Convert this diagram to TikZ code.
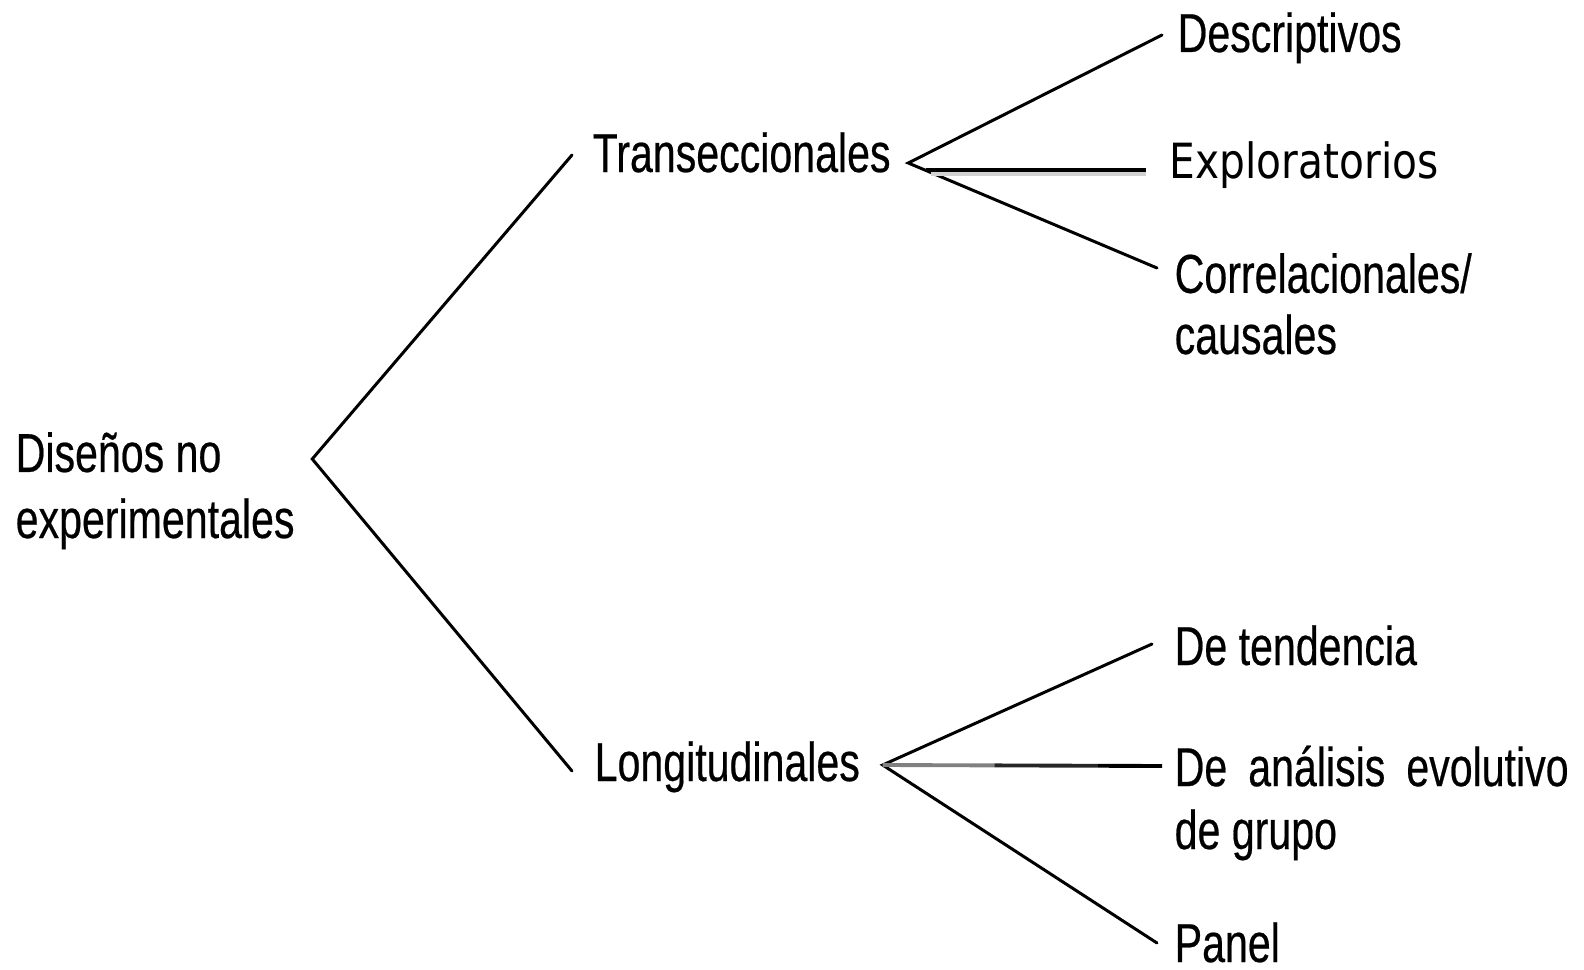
\documentclass[tikz,border=0pt]{standalone}
\usepackage{fontspec}
\setmainfont{Liberation Sans}[FakeStretch=0.75,FakeBold=0.4]
\newfontfamily\explfont{DejaVu Sans}[FakeStretch=0.84]
\usetikzlibrary{positioning,calc}
\tikzset{
  label text/.style={anchor=base west, inner sep=0pt, align=left, font=\fontsize{15.6}{18}\selectfont},
  branch/.style={draw=black, line width=0.85pt, line cap=round},
}

\begin{document}
\begin{tikzpicture}
\useasboundingbox (0,0) rectangle (15.84,-9.70);

\node[label text, font=\fontsize{15.6}{18.8}\selectfont] (root) at (0.15,-5.38) {Diseños no\\experimentales};
\node[label text] (trans) at (5.92,-1.72) {Transeccionales};
\node[label text] (longi) at (5.94,-7.81) {Longitudinales};

\node[label text] (desc) at (11.77,-0.52) {Descriptivos};
\node[label text, font=\explfont\fontsize{13.8}{16}\selectfont] (expl) at (11.69,-1.78) {Exploratorios};
\node[label text, font=\fontsize{15.6}{17.4}\selectfont] (corr) at (11.74,-3.54) {Correlacionales/\\causales};
\node[label text] (tend) at (11.74,-6.65) {De tendencia};
\node[label text, font=\fontsize{15.6}{17.9}\selectfont] (anal) at (11.74,-8.49) {\makebox[3.94cm][s]{De análisis evolutivo}\\de grupo};
\node[label text] (panel) at (11.74,-9.62) {Panel};

\coordinate (rootv) at ($(root.base west -| root.east)+(0.17,0.79)$);
\coordinate (transin) at ($(trans.base west)+(-0.20,0.17)$);
\coordinate (longin) at ($(longi.base west)+(-0.22,0.10)$);
\coordinate (transv) at ($(trans.base east)+(0.17,0.09)$);
\coordinate (longv) at ($(longi.base east)+(0.22,0.16)$);
\coordinate (descin) at ($(desc.base west)+(-0.15,0.17)$);
\coordinate (explin) at ($(expl.base west)+(-0.23,0.05)$);
\coordinate (corrin) at ($(corr.base west)+(-0.17,0.86)$);
\coordinate (tendin) at ($(tend.base west)+(-0.22,0.21)$);
\coordinate (analin) at ($(anal.base west)+(-0.12,0.83)$);
\coordinate (panelin) at ($(panel.base west)+(-0.17,0.19)$);
\coordinate (explout) at ($(transv)!0.07!(corrin)$);

\draw[branch] (transin) -- (rootv) -- (longin);
\draw[branch] (descin) -- (transv) -- (corrin);
\draw[gray!35, line width=1.2pt] ($(explout)+(0.05,-0.04)$) -- ($(explin |- explout)+(0,-0.04)$);
\draw[black, line width=1.1pt] (explout) -- (explin |- explout);
\draw[branch] (tendin) -- (longv) -- (panelin);
\draw[gray, line width=1.1pt] (longv) -- ($(longv)!0.4!(analin)$);
\draw[gray!30!black, line width=1.1pt] ($(longv)!0.4!(analin)$) -- ($(longv)!0.77!(analin)$);
\draw[black, line width=1.1pt] ($(longv)!0.77!(analin)$) -- (analin);
\end{tikzpicture}
\end{document}
